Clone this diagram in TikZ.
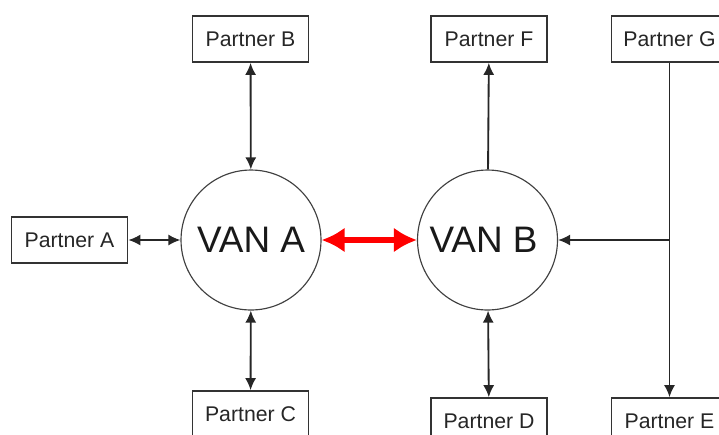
\documentclass[tikz,border=0pt]{standalone}
\usepackage{fontspec}
\setmainfont{Liberation Sans}
\usetikzlibrary{arrows.meta}

\tikzset{
    partner/.style={draw=black!80, line width=0.95pt, fill=white, text=black!85,
        minimum width=2.32cm, minimum height=0.92cm, inner sep=0pt,
        font=\fontsize{12.1}{14}\selectfont},
    van/.style={circle, draw=black!75, line width=0.65pt, minimum size=2.8cm,
        inner sep=0pt, text=black!90, font=\fontsize{21}{24}\selectfont},
    link/.style={line width=1.05pt, black!85},
    hot/.style={line width=3pt, red, {Latex[length=4.6mm,width=5mm]}-{Latex[length=4.6mm,width=5mm]}}
}

\begin{document}
\begin{tikzpicture}[x=0.02cm, y=-0.02cm, >={Latex[length=2.4mm,width=2.2mm]}]
    \useasboundingbox (0, 0) rectangle (719, 434);
    \clip (0, 0) rectangle (719, 434);

    % the two networks
    \node[van] (vanA) at (251, 240) {\raisebox{-2.3pt}{VAN A}};
    \node[van] (vanB) at (487.5, 240) {\raisebox{-2.3pt}{VAN B}\kern0.16cm};

    % partners round them
    \node[partner] (pA) at (69.5, 240) {Partner A};
    \node[partner] (pB) at (250.5, 39) {Partner B};
    \node[partner] (pC) at (250.5, 414) {Partner C};
    \node[partner] (pD) at (489, 421) {Partner D};
    \node[partner] (pE) at (669.5, 421) {Partner E};
    \node[partner] (pF) at (489, 39) {Partner F};
    \node[partner] (pG) at (669.5, 39) {Partner G};

    % links
    \draw[<->, link] (pA) -- (vanA);
    \draw[<->, link] (pB) -- (vanA);
    \draw[<->, link] (vanA) -- (pC);
    \draw[hot] (vanA) -- (vanB);
    \draw[->, link] (vanB) -- (pF);
    \draw[<->, link] (vanB) -- (pD);
    \draw[->, link] (pG) -- (pE);
    \coordinate (tap) at (pG |- vanB);
    \draw[->, link] (tap) -- (vanB);
\end{tikzpicture}
\end{document}
